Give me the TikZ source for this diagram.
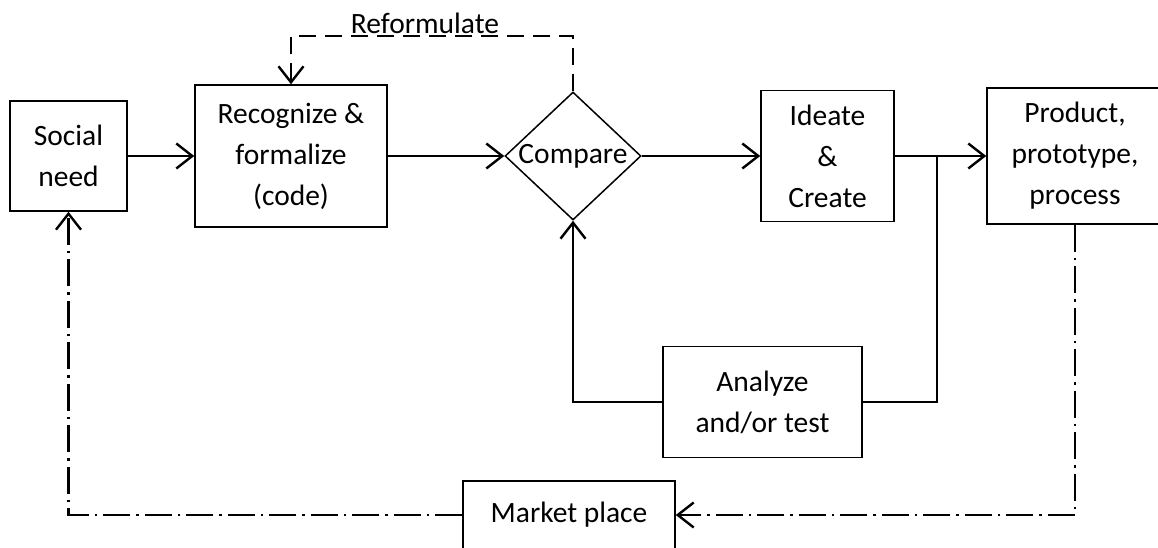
\documentclass[tikz,border=0pt]{standalone}
\usepackage{fontspec}
\setmainfont{Carlito}
\usetikzlibrary{arrows.meta,shapes.geometric}
\begin{document}
\begin{tikzpicture}[x=1pt,y=-1pt,
  txt/.style={font=\fontsize{29.5}{41}\selectfont},
  box/.style={draw, line width=1.5pt, inner sep=0pt, align=center, txt},
  dbox/.style={draw, diamond, line width=1.5pt, inner sep=0pt},
  tip/.style={-{Straight Barb[length=16pt,width=25pt]}},
  conn/.style={line width=2.4pt, tip},
  plain/.style={line width=2.4pt},
  dashconn/.style={line width=2.4pt, dash pattern=on 17pt off 9pt, tip},
  dotconn/.style={line width=2.4pt, dash pattern=on 27pt off 6pt on 2.5pt off 6pt, tip},
  lbl/.style={txt, inner sep=0pt}
]
\useasboundingbox (0,0) rectangle (1158,548);
\fill[white] (0,0) rectangle (1158,548);
\clip (0,0) rectangle (1158,548);

\node[box, minimum width=117pt, minimum height=110pt] (soc) at (68.5,156) {Social\\need};
\node[box, minimum width=192pt, minimum height=142pt] (rec) at (291,156) {Recognize \&\\formalize\\(code)};
\node[dbox, minimum width=136pt, minimum height=128pt, label={[lbl]center:Compare}] (cmp) at (573,156) {};
\node[box, minimum width=133pt, minimum height=131pt] (ide) at (827.5,156) {Ideate\\\&\\Create};
\node[box, minimum width=176pt, minimum height=136pt] (prd) at (1075,156) {Product,\\prototype,\\process};
\node[box, minimum width=199pt, minimum height=111pt] (ana) at (762.5,402) {Analyze\\and/or test};
\node[box, minimum width=212pt, minimum height=68pt] (mkt) at (569,515) {Market place};
\node[lbl] (rft) at (425,23) {Reformulate};

\coordinate (j) at (937,156);
\coordinate (rf) at (432,36);

\draw[conn] (soc.east) -- (rec.west);
\draw[conn] (rec.east) -- (cmp.west);
\draw[conn] (cmp.east) -- (ide.west);
\draw[conn] (ide.east) -- (prd.west);
\draw[plain] (j) |- (ana.east);
\draw[conn] (ana.west) -| (cmp.south);
\draw[dashconn] (cmp.north) |- (rf) -| (rec.north);
\draw[dotconn] (prd.south) |- (mkt.east);
\draw[dotconn] (mkt.west) -| (soc.south);
\end{tikzpicture}
\end{document}
